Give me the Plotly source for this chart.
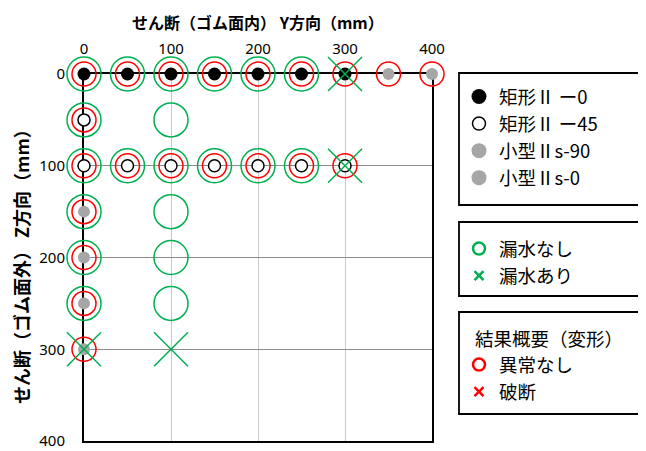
import plotly.graph_objects as go

# ---- data ----
rect0_x = [0, 50, 100, 150, 200, 250, 300]
rect0_y = [0, 0, 0, 0, 0, 0, 0]
rect45_x = [0, 0, 50, 100, 150, 200, 250, 300]
rect45_y = [50, 100, 100, 100, 100, 100, 100, 100]
s90_x = [0, 0, 0, 0]
s90_y = [150, 200, 250, 300]
s0_x = [350, 400]
s0_y = [0, 0]
noleak_x = [0, 50, 100, 150, 200, 250, 0, 100, 0, 50, 100, 150, 200, 250, 0, 100, 0, 100, 0, 100]
noleak_y = [0, 0, 0, 0, 0, 0, 50, 50, 100, 100, 100, 100, 100, 100, 150, 150, 200, 200, 250, 250]
leak_x = [300, 300, 0, 100]
leak_y = [0, 100, 300, 300]
ok_x = [0, 50, 100, 150, 200, 250, 300, 350, 400, 0, 0, 50, 100, 150, 200, 250, 300, 0, 0, 0, 0]
ok_y = [0, 0, 0, 0, 0, 0, 0, 0, 0, 50, 100, 100, 100, 100, 100, 100, 100, 150, 200, 250, 300]
tick_vals = [0, 100, 200, 300, 400]
x_title = "せん断（ゴム面内） Y方向（mm）"
y_title = "せん断（ゴム面外） Z方向（mm）"
legend3_title = "結果概要（変形）"

GREEN = "#00b050"
RED = "#ff0000"
GRAY = "#a6a6a6"

fig = go.Figure()
# plot layers
fig.add_trace(go.Scatter(x=noleak_x, y=noleak_y, mode="markers", showlegend=False, cliponaxis=False,
                         marker=dict(symbol="circle-open", size=34, color=GREEN, line=dict(width=1.5))))
fig.add_trace(go.Scatter(x=ok_x, y=ok_y, mode="markers", showlegend=False, cliponaxis=False,
                         marker=dict(symbol="circle-open", size=24, color=RED, line=dict(width=1.5))))
fig.add_trace(go.Scatter(x=rect0_x, y=rect0_y, mode="markers", showlegend=False, cliponaxis=False,
                         marker=dict(symbol="circle", size=13, color="black", line=dict(width=0))))
fig.add_trace(go.Scatter(x=rect45_x, y=rect45_y, mode="markers", showlegend=False, cliponaxis=False,
                         marker=dict(symbol="circle", size=12, color="white", line=dict(width=1.5, color="black"))))
fig.add_trace(go.Scatter(x=s90_x, y=s90_y, mode="markers", showlegend=False, cliponaxis=False,
                         marker=dict(symbol="circle", size=12, color=GRAY, line=dict(width=0))))
fig.add_trace(go.Scatter(x=s0_x, y=s0_y, mode="markers", showlegend=False, cliponaxis=False,
                         marker=dict(symbol="circle", size=12, color=GRAY, line=dict(width=0))))
fig.add_trace(go.Scatter(x=leak_x, y=leak_y, mode="markers", showlegend=False, cliponaxis=False,
                         marker=dict(symbol="x-thin-open", size=34, color=GREEN, line=dict(width=1.5, color=GREEN))))

# legend entries
def leg(name, legend, group, marker):
    fig.add_trace(go.Scatter(x=[None], y=[None], mode="markers", name=name, legend=legend,
                             legendgroup=group, marker=marker))

leg("矩形Ⅱ ー0", "legend", "a", dict(symbol="circle", size=15, color="black", line=dict(width=0)))
leg("矩形Ⅱ ー45", "legend", "b", dict(symbol="circle", size=13, color="white", line=dict(width=1.5, color="black")))
leg("小型Ⅱs-90", "legend", "c", dict(symbol="circle", size=15, color=GRAY, line=dict(width=0)))
leg("小型Ⅱs-0", "legend", "d", dict(symbol="circle", size=15, color=GRAY, line=dict(width=0)))
leg("漏水なし", "legend2", "e", dict(symbol="circle-open", size=12, color=GREEN, line=dict(width=2.5)))
leg("漏水あり", "legend2", "f", dict(symbol="x-thin-open", size=9, color=GREEN, line=dict(width=2.5, color=GREEN)))
leg("異常なし", "legend3", "g", dict(symbol="circle-open", size=12, color=RED, line=dict(width=2.5)))
leg("破断", "legend3", "h", dict(symbol="x-thin-open", size=9, color=RED, line=dict(width=2.5, color=RED)))

# page has an 8px body margin: lay out in reference pixels minus that offset
OFF = 8
W, H = 646 - OFF, 451 - OFF
L, T = 84 - OFF, 74 - OFF
PW, PH = 348, 367
R = W - L - PW
B = H - T - PH

def px2x(px):
    return (px - OFF - L) / PW

def px2y(py):
    return (T + PH - (py - OFF)) / PH

legfont = dict(family="Noto Sans CJK JP", size=18.5, color="black")
common = dict(font=legfont, bgcolor="rgba(0,0,0,0)", borderwidth=0, tracegroupgap=0,
              xanchor="left", yanchor="top", itemclick=False)

shapes = []
for (t, b) in [(73, 205), (222, 296), (312, 414)]:
    shapes.append(dict(type="rect", xref="paper", yref="paper", x0=px2x(459), x1=px2x(660),
                       y0=px2y(b), y1=px2y(t), line=dict(color="black", width=1.8)))

fig.update_layout(
    width=W, height=H,
    margin=dict(l=L, r=R, t=T, b=B, autoexpand=False),
    plot_bgcolor="white", paper_bgcolor="white",
    font=dict(family="Noto Sans", size=15, color="black"),
    xaxis=dict(side="top", range=[0, 400], tickvals=tick_vals, showgrid=True, gridcolor="#c8c8c8",
               gridwidth=1, showline=True, linecolor="black", linewidth=2, mirror=True,
               zeroline=False, ticks="", layer="below traces", fixedrange=True, automargin=False,
               ticklabelstandoff=12, tickfont=dict(family="Noto Sans", size=15)),
    yaxis=dict(range=[400, 0], tickvals=tick_vals, showgrid=True, gridcolor="#8c8c8c",
               gridwidth=1, showline=True, linecolor="black", linewidth=2, mirror=True,
               zeroline=False, ticks="", layer="below traces", fixedrange=True, automargin=False,
               ticklabelstandoff=14, tickfont=dict(family="Noto Sans", size=15)),
    legend=dict(x=px2x(459), y=px2y(78), **common),
    legend2=dict(x=px2x(459), y=px2y(230), **common),
    legend3=dict(x=px2x(459), y=px2y(322), title=dict(text="\u2002\u2005" + legend3_title, font=legfont), **common),
    shapes=shapes,
    annotations=[
        dict(text="<b>" + x_title + "</b>", xref="paper", yref="paper", x=px2x(258), y=px2y(22),
             xanchor="center", yanchor="middle",
             showarrow=False, font=dict(family="Noto Sans CJK JP", size=16)),
        dict(text="<b>" + y_title + "</b>", xref="paper", yref="paper", x=px2x(21), y=px2y(262),
             xanchor="center", yanchor="middle",
             showarrow=False, textangle=-90, font=dict(family="Noto Sans CJK JP", size=18)),
    ],
)

fig.write_html("out.html")
